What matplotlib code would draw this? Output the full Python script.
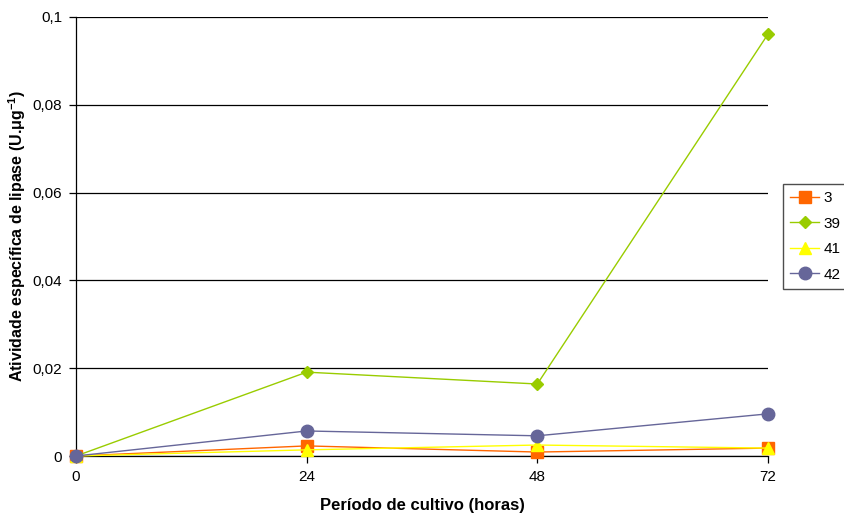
import matplotlib
matplotlib.use("Agg")
import matplotlib.pyplot as plt

plt.rcParams['font.family'] = ['Liberation Sans', 'DejaVu Sans']
plt.rcParams['mathtext.fontset'] = 'custom'
plt.rcParams['mathtext.bf'] = 'Liberation Sans:bold'
plt.rcParams['mathtext.rm'] = 'Liberation Sans:bold'
plt.rcParams['mathtext.default'] = 'bf'

hours = [0, 24, 48, 72]
series_names = ["3", "39", "41", "42"]
s3 = [0.0, 0.0023, 0.0009, 0.0018]
s39 = [0.0, 0.0191, 0.0164, 0.0961]
s41 = [0.0, 0.0014, 0.0025, 0.0018]
s42 = [0.0, 0.0057, 0.0046, 0.0096]
y_ticks = [0, 0.02, 0.04, 0.06, 0.08, 0.1]
y_tick_labels = ["0", "0,02", "0,04", "0,06", "0,08", "0,1"]

fig = plt.figure(figsize=(8.45, 5.13), dpi=100)
ax = fig.add_axes([76 / 845, (513 - 456) / 513, (768 - 76) / 845, (456 - 17) / 513])

styles = [
    (s3, "#FF6600", "s", 8),
    (s39, "#99CC00", "D", 6.5),
    (s41, "#FFFF00", "^", 9),
    (s42, "#666699", "o", 9),
]
for name, (vals, col, mk, ms) in zip(series_names, styles):
    ax.plot(hours, vals, color=col, marker=mk, markersize=ms, linewidth=1.0,
            markeredgecolor=col, label=name, clip_on=False, zorder=3)

ax.set_xlim(0, 72)
ax.set_ylim(0, 0.1)
ax.set_xticks(hours)
ax.set_xticklabels([str(h) for h in hours], fontsize=11)
ax.set_yticks(y_ticks)
ax.set_yticklabels(y_tick_labels, fontsize=11)
ax.yaxis.grid(True, color="black", linewidth=0.9)
ax.set_axisbelow(True)
for sp in ["top", "right"]:
    ax.spines[sp].set_visible(False)
ax.spines["left"].set_linewidth(0.9)
ax.spines["bottom"].set_linewidth(0.9)
ax.tick_params(axis="both", direction="out", length=5, width=0.9, pad=5)

ax.set_xlabel("Período de cultivo (horas)", fontsize=12, fontweight="bold", labelpad=10)
ax.set_ylabel(r"Atividade específica de lipase (U.$\mu$g$^{-1}$)", fontsize=11.5,
              fontweight="bold")
ax.yaxis.set_label_coords(-0.07, 0.5)

leg = ax.legend(loc="center left", bbox_to_anchor=(1.022, 0.5), fontsize=11,
                frameon=True, fancybox=False, edgecolor="#222222", borderpad=0.45,
                handlelength=1.9, handletextpad=0.3, labelspacing=0.75,
                borderaxespad=0)
leg.get_frame().set_linewidth(1.0)

fig.savefig("out.png", dpi=100)
